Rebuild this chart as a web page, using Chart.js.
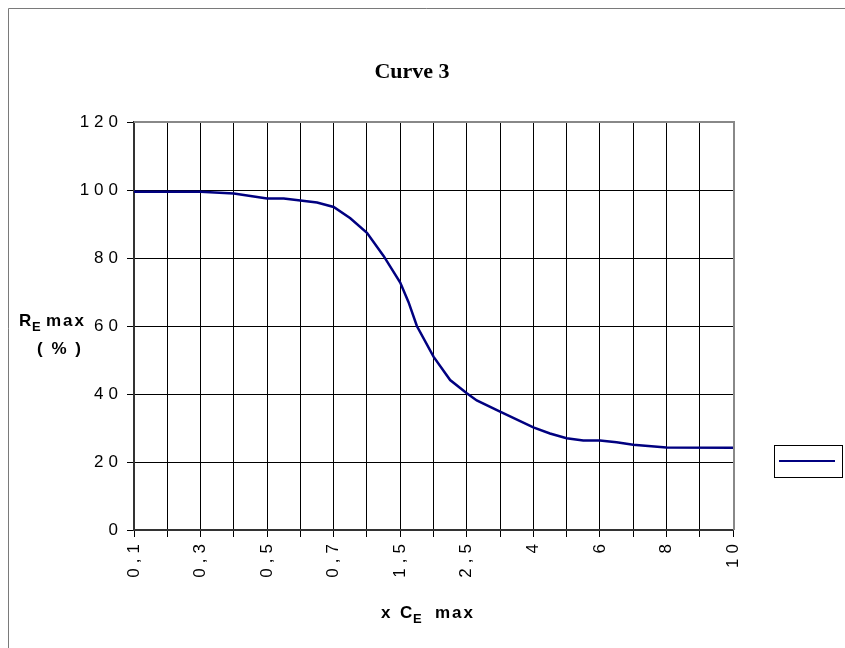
<!DOCTYPE html>
<html>
<head>
<meta charset="utf-8">
<script src="https://cdn.jsdelivr.net/npm/chart.js@4.4.1/dist/chart.umd.min.js"></script>
<style>
  html, body { margin: 0; padding: 0; background: #fff; }
  #wrap { position: absolute; left: 0; top: 0; width: 845px; height: 648px; }
  canvas { display: block; }
</style>
</head>
<body>
<div id="wrap"><canvas id="c" width="845" height="648"></canvas></div>
<script>
// ---- Data ----
const chartTitle = 'Curve 3';
const tickLabels = ['0,1', '0,3', '0,5', '0,7', '1,5', '2,5', '4', '6', '8', '10'];
// x position of each point, measured in tick-label units (0 = "0,1", 1 = "0,3", ...)
const xPositions = [0, 1, 1.5, 2, 2.25, 2.75, 3, 3.25, 3.5, 3.75, 4, 4.125, 4.25, 4.5, 4.75, 5, 5.15, 5.5, 6, 6.25, 6.5, 6.75, 7, 7.25, 7.5, 8, 9];
const reMax = [99.5, 99.5, 99.0, 97.5, 97.5, 96.3, 95.0, 91.7, 87.4, 80.6, 72.8, 67.0, 60.0, 51.0, 44.1, 40.2, 38.1, 34.8, 30.2, 28.4, 27.0, 26.3, 26.3, 25.8, 25.1, 24.3, 24.2];
const yTicks = [0, 20, 40, 60, 80, 100, 120];

const points = xPositions.map((x, i) => ({ x: x, y: reMax[i] }));
const FONT = '"Liberation Sans", Arial, sans-serif';
const LINE_COLOR = '#000080';

const decorPlugin = {
  id: 'decor',
  beforeDraw(chart) {
    const ctx = chart.ctx;
    ctx.save();
    ctx.fillStyle = '#fff';
    ctx.fillRect(0, 0, chart.width, chart.height);
    ctx.strokeStyle = '#7a7a7a';
    ctx.lineWidth = 1;
    ctx.beginPath();
    ctx.moveTo(8.5, chart.height);
    ctx.lineTo(8.5, 8.5);
    ctx.lineTo(chart.width, 8.5);
    ctx.stroke();
    ctx.restore();
    // spaced-out tick label lettering as in the reference
    ctx.letterSpacing = '5px';
  },
  afterDraw(chart) {
    const ctx = chart.ctx;
    const a = chart.chartArea;
    ctx.save();
    // plot frame (top / right) in grey
    ctx.strokeStyle = '#888';
    ctx.lineWidth = 2;
    ctx.beginPath();
    ctx.moveTo(a.left, a.top);
    ctx.lineTo(a.right + 1, a.top);
    ctx.lineTo(a.right + 1, a.bottom);
    ctx.stroke();

    // chart title
    ctx.letterSpacing = '0px';
    ctx.fillStyle = '#000';
    ctx.font = 'bold 22px "Liberation Serif", "Times New Roman", serif';
    ctx.textAlign = 'center';
    ctx.textBaseline = 'alphabetic';
    ctx.fillText(chartTitle, 412, 78);

    // y axis title: R_E max / ( % )
    ctx.textAlign = 'left';
    ctx.font = 'bold 17px ' + FONT;
    ctx.letterSpacing = '1px';
    ctx.fillText('R', 19, 326);
    ctx.font = 'bold 13px ' + FONT;
    ctx.fillText('E', 32, 331);
    ctx.font = 'bold 17px ' + FONT;
    ctx.letterSpacing = '2px';
    ctx.fillText('max', 46, 326);
    ctx.fillText('( % )', 37, 354);

    // x axis title: x  C_E  max
    ctx.letterSpacing = '1px';
    ctx.font = 'bold 17px ' + FONT;
    ctx.fillText('x', 381, 618);
    ctx.fillText('C', 400, 618);
    ctx.font = 'bold 13px ' + FONT;
    ctx.fillText('E', 413, 623);
    ctx.font = 'bold 17px ' + FONT;
    ctx.letterSpacing = '2px';
    ctx.fillText('max', 435, 618);

    // legend box (no text in the reference)
    ctx.letterSpacing = '0px';
    ctx.fillStyle = '#fff';
    ctx.fillRect(774, 445, 69, 33);
    ctx.strokeStyle = '#000';
    ctx.lineWidth = 1;
    ctx.strokeRect(774.5, 445.5, 68, 32);
    ctx.strokeStyle = chart.data.datasets[0].borderColor;
    ctx.lineWidth = 2;
    ctx.beginPath();
    ctx.moveTo(779, 461);
    ctx.lineTo(835, 461);
    ctx.stroke();
    ctx.restore();
  }
};

new Chart(document.getElementById('c'), {
  type: 'line',
  data: {
    datasets: [{
      label: '',
      data: points,
      borderColor: LINE_COLOR,
      borderWidth: 2.5,
      pointRadius: 0,
      tension: 0,
      fill: false
    }]
  },
  options: {
    responsive: false,
    animation: false,
    devicePixelRatio: 1,
    layout: { padding: { left: 0, top: 122, right: 112, bottom: 0 } },
    plugins: {
      legend: { display: false },
      title: { display: false },
      tooltip: { enabled: false }
    },
    scales: {
      x: {
        type: 'linear',
        min: 0,
        max: tickLabels.length - 1,
        afterFit(scale) { scale.height = 118; },
        ticks: {
          stepSize: 0.5,
          autoSkip: false,
          maxRotation: 90,
          minRotation: 90,
          padding: 2,
          color: '#000',
          font: { family: FONT, size: 17 },
          callback: (v) => Number.isInteger(v) ? tickLabels[v] : ''
        },
        grid: { color: '#000', lineWidth: 1, tickLength: 7, drawTicks: true },
        border: { color: '#333', width: 2 }
      },
      y: {
        min: 0,
        max: 120,
        afterFit(scale) { scale.width = 134; },
        afterBuildTicks(scale) { scale.ticks = yTicks.map(v => ({ value: v })); },
        ticks: {
          padding: 4,
          color: '#000',
          font: { family: FONT, size: 17 }
        },
        grid: { color: '#000', lineWidth: 1, tickLength: 7, drawTicks: true },
        border: { color: '#333', width: 2 }
      }
    }
  },
  plugins: [decorPlugin]
});
</script>
</body>
</html>
